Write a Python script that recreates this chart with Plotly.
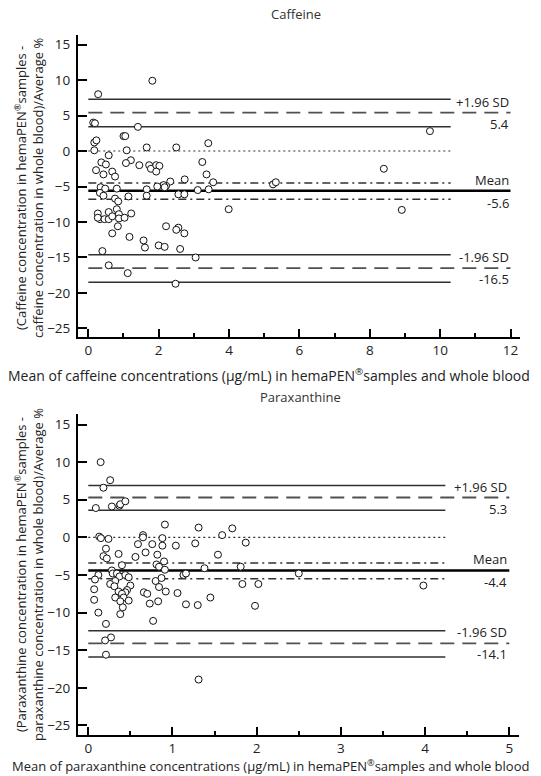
import plotly.graph_objects as go

W, H = 541, 776

# ---------------- data ----------------
caf_x = [0.28, 1.82, 0.14, 0.19, 1.41, 0.17, 0.23, 1.0, 1.05, 0.17, 1.09, 1.66, 2.5, 3.41,
         0.58, 0.37, 0.5, 1.21, 1.07, 1.45, 1.73, 1.78, 1.93, 2.02, 1.93, 3.24, 3.36, 0.22,
         0.43, 0.68, 0.76, 3.55, 2.33, 2.74, 2.21, 2.14, 1.96, 2.17, 1.66, 1.66, 0.81, 0.35,
         0.48, 0.33, 0.43, 1.14, 2.56, 2.73, 3.11, 3.42, 0.76, 0.85, 3.99, 0.81, 0.27, 0.33,
         0.27, 0.46, 0.58, 0.58, 0.68, 0.87, 0.87, 1.03, 1.22, 0.84, 0.68, 1.17, 2.21, 2.56,
         2.5, 2.73, 1.57, 1.61, 2.0, 2.17, 2.61, 0.4, 3.05, 0.58, 1.12, 2.48, 9.71, 8.4,
         5.25, 5.33, 8.91]
caf_y = [8.0, 9.9, 4.0, 3.9, 3.4, 1.2, 1.5, 2.1, 2.1, 0.1, 0.1, 0.5, 0.5, 1.1,
         -0.6, -1.6, -1.9, -1.3, -1.7, -2.0, -2.0, -2.5, -2.0, -2.1, -2.9, -1.55, -3.3, -2.7,
         -3.3, -2.9, -3.6, -4.4, -4.3, -4.0, -4.9, -4.8, -5.0, -5.1, -5.4, -6.3, -5.3, -5.1,
         -5.3, -5.9, -6.3, -6.4, -6.1, -6.1, -5.5, -5.4, -6.7, -7.1, -8.2, -8.2, -8.8, -9.6,
         -9.4, -9.6, -9.6, -8.6, -9.2, -8.9, -9.5, -9.4, -8.8, -10.6, -11.6, -12.1, -10.6, -10.8,
         -11.1, -11.6, -12.6, -13.6, -13.3, -13.5, -13.8, -14.1, -15.0, -16.1, -17.2, -18.7, 2.8, -2.5,
         -4.7, -4.4, -8.3]

par_x = [0.147, 0.26, 0.18, 0.09, 0.28, 0.37, 0.38, 0.44, 0.91, 1.31, 0.13, 0.15, 0.24, 0.65,
         0.65, 0.88, 0.59, 0.76, 0.88, 1.04, 1.27, 0.21, 0.68, 0.82, 0.36, 0.18, 0.22, 0.56,
         0.40, 0.81, 0.84, 0.90, 1.54, 1.38, 1.87, 0.91, 0.28, 0.29, 0.12, 0.08, 0.34, 0.37,
         0.44, 0.48, 0.32, 0.26, 0.31, 0.50, 0.46, 0.44, 0.36, 0.40, 0.32, 0.42, 0.38, 0.48,
         0.41, 0.38, 0.07, 0.07, 0.12, 0.21, 0.27, 0.20, 0.21, 1.31, 0.77, 0.66, 0.70, 0.73,
         0.83, 0.80, 0.84, 0.87, 0.92, 1.06, 1.13, 1.16, 1.16, 1.30, 1.45, 1.81, 1.83, 2.02,
         1.98, 1.71, 1.59, 2.5, 3.98]
par_y = [10.0, 7.6, 6.6, 3.9, 4.1, 4.2, 4.4, 4.8, 1.7, 1.3, 0.1, -0.1, -0.2, 0.3,
         0.0, -0.1, -0.9, -0.9, -1.1, -1.1, -0.8, -1.5, -2.0, -2.3, -2.2, -2.5, -2.8, -2.6,
         -3.7, -3.6, -3.9, -3.2, -2.3, -4.1, -0.7, -4.3, -4.4, -4.8, -5.0, -5.6, -4.8, -5.2,
         -5.0, -5.3, -5.8, -6.2, -6.5, -6.4, -7.0, -7.3, -7.2, -7.5, -8.0, -8.0, -8.5, -8.4,
         -9.3, -10.2, -6.9, -8.3, -10.0, -11.5, -13.3, -13.7, -15.6, -18.9, -11.1, -7.3, -7.5, -8.8,
         -8.5, -5.8, -6.6, -5.4, -7.2, -7.4, -5.0, -4.8, -8.9, -9.0, -8.0, -3.9, -6.2, -6.2,
         -9.1, 1.2, 0.3, -4.8, -6.4]

# Bland-Altman statistics (limits of agreement, mean bias and their confidence bounds)
caf_stats = dict(up_hi=7.3, up=5.4, up_lo=3.4, m_hi=-4.5, m=-5.6, m_lo=-6.8, lo_hi=-14.6, lo=-16.5, lo_lo=-18.5)
par_stats = dict(up_hi=6.9, up=5.3, up_lo=3.6, m_hi=-3.4, m=-4.4, m_lo=-5.5, lo_hi=-12.4, lo=-14.1, lo_lo=-15.9)
caf_line_end, caf_long_end = 10.3, 12.0
par_line_end, par_long_end = 4.24, 5.0

caf_xticks = [0, 2, 4, 6, 8, 10, 12]
par_xticks = [0, 1, 2, 3, 4, 5]
y_ticks = [15, 10, 5, 0, -5, -10, -15, -20, -25]

FONT = "Open Sans"
TXT = "#222222"

fig = go.Figure()

def px_x(p):
    return p / W

def px_y(p):
    return 1 - p / H

panels = [
    dict(xa="x", ya="y", x=caf_x, y=caf_y, st=caf_stats, end=caf_line_end, lend=caf_long_end,
         dom_x=[px_x(78), px_x(520)], dom_y=[px_y(337), px_y(35)],
         xr=[-0.293, 12.27], yr=[-26.2, 16.34], xt=caf_xticks, minor=1,
         title="Caffeine", title_px=(296, 14),
         xtitle="Mean of caffeine concentrations (µg/mL) in hemaPEN<sup>®</sup>samples and whole blood",
         xtitle_px=(269, 375), xtitle_size=14,
         ytitle="(Caffeine concentration in hemaPEN<sup>®</sup>samples -<br>caffeine concentration in whole blood)/Average %",
         ytitle_px=(29, 188)),
    dict(xa="x2", ya="y2", x=par_x, y=par_y, st=par_stats, end=par_line_end, lend=par_long_end,
         dom_x=[px_x(78), px_x(519)], dom_y=[px_y(735), px_y(414)],
         xr=[-0.122, 5.115], yr=[-26.27, 16.4], xt=par_xticks, minor=0.5,
         title="Paraxanthine", title_px=(300, 397),
         xtitle="Mean of paraxanthine concentrations (µg/mL) in hemaPEN<sup>®</sup>samples and whole blood",
         xtitle_px=(270.5, 765), xtitle_size=13,
         ytitle="(Paraxanthine concentration in hemaPEN<sup>®</sup>samples -<br>paraxanthine concentration in whole blood)/Average %",
         ytitle_px=(29, 575)),
]

annotations = []
for p in panels:
    st = p["st"]
    xa, ya = p["xa"], p["ya"]
    def hline(yv, x1, color, width, dash):
        fig.add_trace(go.Scatter(x=[0, x1], y=[yv, yv], mode="lines", xaxis=xa, yaxis=ya,
                                 line=dict(color=color, width=width, dash=dash),
                                 hoverinfo="skip", showlegend=False))
    hline(st["up_hi"], p["end"], "#303030", 1.5, "solid")
    hline(st["up"], p["lend"], "#505050", 1.8, "14px,8px")
    hline(st["up_lo"], p["end"], "#303030", 1.5, "solid")
    hline(0, p["end"], "#303030", 1.2, "2px,3px")
    hline(st["m_hi"], p["end"], "#303030", 1.4, "8px,4px,2px,4px")
    hline(st["m"], p["lend"], "#000000", 2.5, "solid")
    hline(st["m_lo"], p["end"], "#303030", 1.4, "8px,4px,2px,4px")
    hline(st["lo_hi"], p["end"], "#303030", 1.5, "solid")
    hline(st["lo"], p["lend"], "#505050", 1.8, "14px,8px")
    hline(st["lo_lo"], p["end"], "#303030", 1.5, "solid")

    fig.add_trace(go.Scatter(x=p["x"], y=p["y"], mode="markers", xaxis=xa, yaxis=ya,
                             marker=dict(symbol="circle", size=7, color="white",
                                         line=dict(color="#111111", width=1)),
                             showlegend=False))

    for yv, txt, shift in [(st["up"], "+1.96 SD", 11), (st["up"], f"{st['up']:.1f}", -11),
                           (st["m"], "Mean", 11), (st["m"], f"{st['m']:.1f}", -12),
                           (st["lo"], "-1.96 SD", 11), (st["lo"], f"{st['lo']:.1f}", -11)]:
        annotations.append(dict(x=p["lend"], y=yv, xref=xa, yref=ya, text=txt, showarrow=False,
                                xanchor="right", yanchor="middle", yshift=shift,
                                font=dict(family=FONT, size=13, color=TXT)))

    annotations.append(dict(x=px_x(p["title_px"][0]), y=px_y(p["title_px"][1]), xref="paper", yref="paper",
                            text=p["title"], showarrow=False, xanchor="center", yanchor="middle",
                            font=dict(family=FONT, size=13, color="#333333")))
    annotations.append(dict(x=px_x(p["xtitle_px"][0]), y=px_y(p["xtitle_px"][1]), xref="paper", yref="paper",
                            text=p["xtitle"], showarrow=False, xanchor="center", yanchor="middle",
                            font=dict(family=FONT, size=p["xtitle_size"], color=TXT)))
    annotations.append(dict(x=px_x(p["ytitle_px"][0]), y=px_y(p["ytitle_px"][1]), xref="paper", yref="paper",
                            text=p["ytitle"], showarrow=False, xanchor="center", yanchor="middle",
                            textangle=-90,
                            font=dict(family=FONT, size=13, color=TXT)))

axis_common = dict(showgrid=False, zeroline=False, showline=True, linecolor="#000000", linewidth=2,
                   ticks="inside", tickcolor="#000000", tickwidth=1.5,
                   tickfont=dict(family=FONT, size=13.5, color=TXT), mirror=False)

layout = dict(width=W, height=H, margin=dict(l=0, r=0, t=0, b=0),
              paper_bgcolor="white", plot_bgcolor="white", showlegend=False,
              annotations=annotations)

for i, p in enumerate(panels):
    sx = "" if i == 0 else "2"
    layout["xaxis" + sx] = dict(axis_common, domain=p["dom_x"], range=p["xr"], anchor="y" + sx,
                                tickvals=p["xt"], ticklen=8,
                                minor=dict(dtick=p["minor"], tick0=0, ticks="inside",
                                           ticklen=4, tickcolor="#000000", tickwidth=1.5))
    layout["yaxis" + sx] = dict(axis_common, domain=p["dom_y"], range=p["yr"], anchor="x" + sx,
                                tickvals=y_ticks, ticklen=9, ticklabelstandoff=3)

fig.update_layout(**layout)
fig.write_html("out.html")
